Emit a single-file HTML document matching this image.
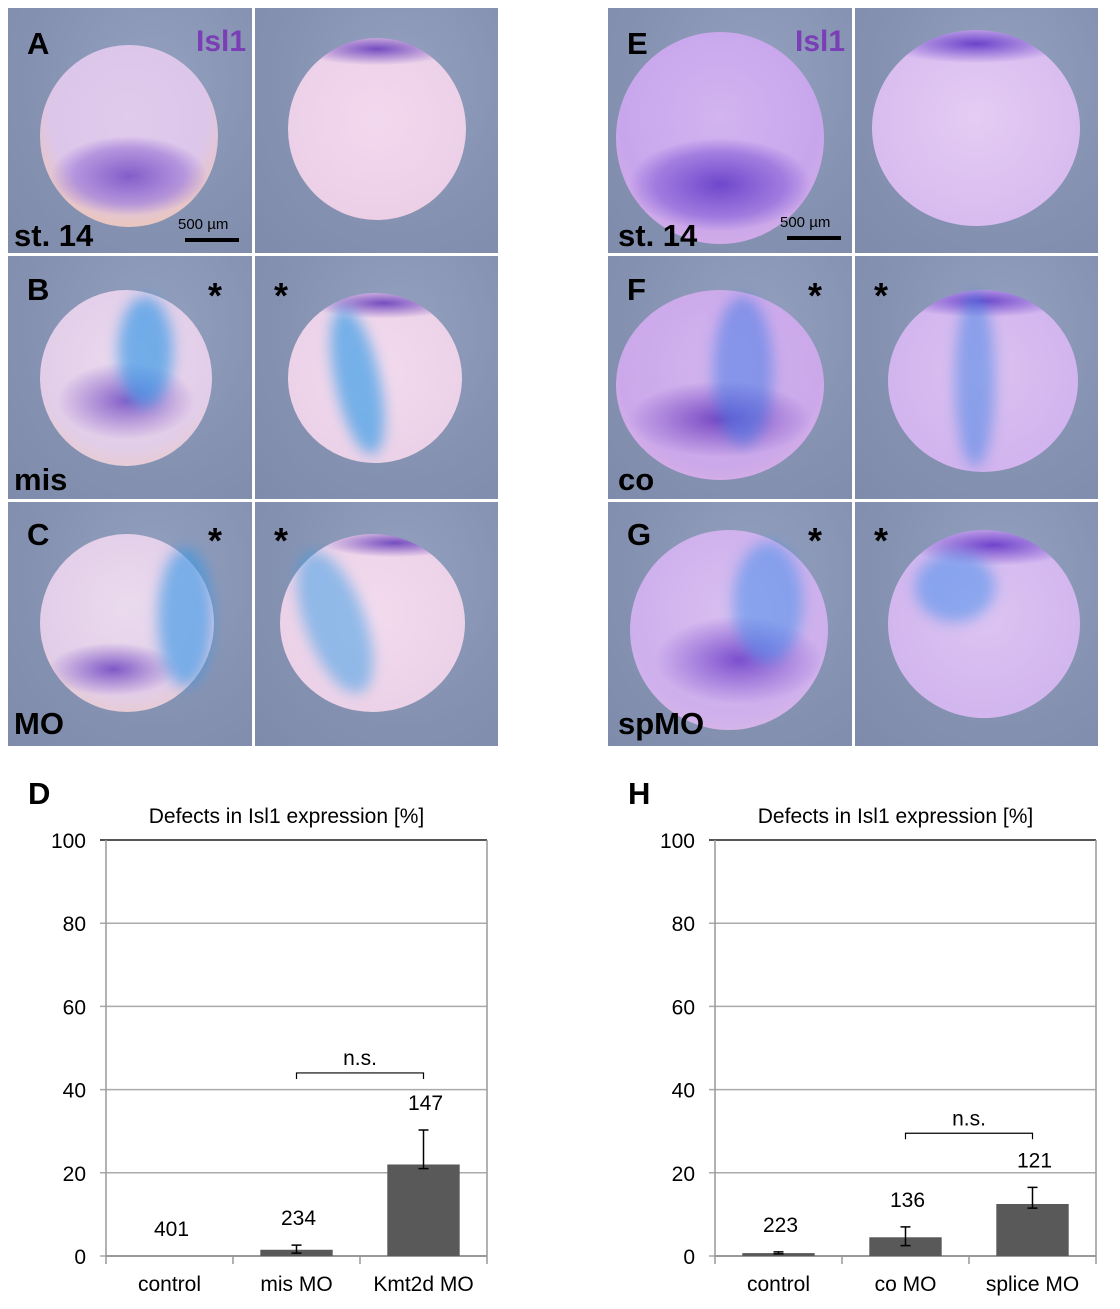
<!DOCTYPE html>
<html><head><meta charset="utf-8">
<style>
body{margin:0;background:#fff;width:1120px;height:1309px;position:relative;overflow:hidden;font-family:"Liberation Sans",sans-serif;}
.p{position:absolute;background:radial-gradient(ellipse at 60% 30%,#94a0bf 0,#8591b1 60%,#7f8bab 100%);overflow:hidden;}
.e{position:absolute;border-radius:50%;}
.s{position:absolute;border-radius:50%;filter:blur(7px);}
.lbl{position:absolute;font-weight:bold;font-size:31px;color:#000;line-height:1;}
.ast{position:absolute;font-weight:bold;font-size:36px;line-height:1;}
.isl{position:absolute;font-weight:bold;font-size:30px;color:#7a3eb5;line-height:1;}
.sb{position:absolute;font-size:15px;line-height:1;}
.bar{position:absolute;height:4px;background:#000;}
</style></head><body>

<!-- LEFT GROUP -->
<div class="p" style="left:8px;top:8px;width:244px;height:245px">
 <div class="e" style="left:32px;top:37px;width:178px;height:182px;background:radial-gradient(ellipse 44% 22% at 50% 72%,rgba(115,75,195,.85),rgba(140,100,210,.5) 70%,transparent),radial-gradient(circle at 50% 40%,#e0cbec 0,#dcc6ea 55%,#efc6b0 85%,#e8b888 100%)"></div>
</div>
<div class="p" style="left:255px;top:8px;width:243px;height:245px">
 <div class="e" style="left:33px;top:30px;width:178px;height:182px;background:radial-gradient(ellipse 44% 9% at 50% 6%,rgba(110,70,190,.95),transparent),radial-gradient(circle at 50% 45%,#f3d8ee 0,#ecd0e8 70%,#ecc8c8 100%)"></div>
</div>
<div class="p" style="left:8px;top:256px;width:244px;height:243px">
 <div class="e" style="left:32px;top:34px;width:172px;height:176px;background:radial-gradient(ellipse 40% 22% at 50% 63%,rgba(115,75,195,.85),transparent),radial-gradient(circle at 50% 40%,#ebd9ee 0,#e2cde8 65%,#eecbb4 100%)"></div>
 <div class="s" style="left:110px;top:40px;width:55px;height:110px;background:rgba(50,150,230,.65)"></div>
</div>
<div class="p" style="left:255px;top:256px;width:243px;height:243px">
 <div class="e" style="left:33px;top:37px;width:174px;height:170px;background:radial-gradient(ellipse 44% 9% at 55% 6%,rgba(110,70,190,.95),transparent),radial-gradient(circle at 50% 45%,#f3dbee 0,#ecd2e8 70%,#eccaca 100%)"></div>
 <div class="s" style="left:80px;top:50px;width:45px;height:150px;background:rgba(50,155,230,.65);transform:rotate(-12deg)"></div>
</div>
<div class="p" style="left:8px;top:502px;width:244px;height:244px">
 <div class="e" style="left:32px;top:32px;width:174px;height:178px;background:radial-gradient(ellipse 37% 15% at 42% 76%,rgba(115,75,195,.9),transparent),radial-gradient(circle at 50% 40%,#ebdbee 0,#e2cde8 65%,#eecbb4 100%)"></div>
 <div class="s" style="left:150px;top:45px;width:55px;height:140px;background:rgba(50,150,230,.6)"></div>
</div>
<div class="p" style="left:255px;top:502px;width:243px;height:244px">
 <div class="e" style="left:25px;top:32px;width:185px;height:178px;background:radial-gradient(ellipse 40% 8% at 62% 5%,rgba(110,70,190,.95),transparent),radial-gradient(circle at 50% 45%,#f3dbee 0,#ecd2e8 70%,#eccaca 100%)"></div>
 <div class="s" style="left:50px;top:45px;width:60px;height:150px;background:rgba(50,155,230,.5);transform:rotate(-20deg)"></div>
</div>

<!-- RIGHT GROUP -->
<div class="p" style="left:608px;top:8px;width:244px;height:245px">
 <div class="e" style="left:8px;top:24px;width:208px;height:212px;background:radial-gradient(ellipse 44% 22% at 50% 72%,rgba(100,60,200,.9),rgba(120,80,210,.5) 70%,transparent),radial-gradient(circle at 50% 40%,#d2b4f0 0,#c8a6ec 60%,#dcb0e4 100%)"></div>
</div>
<div class="p" style="left:855px;top:8px;width:243px;height:245px">
 <div class="e" style="left:17px;top:22px;width:208px;height:196px;background:radial-gradient(ellipse 44% 10% at 50% 7%,rgba(100,60,200,.95),transparent),radial-gradient(circle at 50% 45%,#e4ccf2 0,#d8bcf0 70%,#dcb4e6 100%)"></div>
</div>
<div class="p" style="left:608px;top:256px;width:244px;height:243px">
 <div class="e" style="left:8px;top:34px;width:208px;height:190px;background:radial-gradient(ellipse 44% 20% at 50% 68%,rgba(110,60,190,.9),transparent),radial-gradient(circle at 50% 40%,#d2b4ee 0,#cba8ea 65%,#e8b8e0 100%)"></div>
 <div class="s" style="left:105px;top:40px;width:60px;height:150px;background:rgba(60,120,230,.5)"></div>
</div>
<div class="p" style="left:855px;top:256px;width:243px;height:243px">
 <div class="e" style="left:33px;top:34px;width:190px;height:182px;background:radial-gradient(ellipse 44% 9% at 50% 6%,rgba(100,60,200,.9),transparent),radial-gradient(circle at 50% 45%,#dcc2f0 0,#d2b4ee 70%,#e0b8e4 100%)"></div>
 <div class="s" style="left:100px;top:36px;width:40px;height:175px;background:rgba(60,130,230,.5)"></div>
</div>
<div class="p" style="left:608px;top:502px;width:244px;height:244px">
 <div class="e" style="left:22px;top:28px;width:198px;height:200px;background:radial-gradient(ellipse 42% 22% at 55% 65%,rgba(110,60,200,.85),transparent),radial-gradient(circle at 50% 40%,#d8bef0 0,#cdafec 65%,#e6bde6 100%)"></div>
 <div class="s" style="left:125px;top:40px;width:70px;height:120px;background:rgba(60,140,235,.5)"></div>
</div>
<div class="p" style="left:855px;top:502px;width:243px;height:244px">
 <div class="e" style="left:33px;top:28px;width:192px;height:188px;background:radial-gradient(ellipse 44% 11% at 55% 8%,rgba(100,55,200,.9),transparent),radial-gradient(circle at 50% 45%,#dcc4f2 0,#d2b6ee 70%,#e4bce6 100%)"></div>
 <div class="s" style="left:60px;top:50px;width:80px;height:70px;background:rgba(60,140,235,.5)"></div>
</div>

<!-- Labels left -->
<div class="lbl" style="left:27px;top:28px">A</div>
<div class="isl" style="left:196px;top:27px">Isl1</div>
<div class="lbl" style="left:14px;top:220px">st. 14</div>
<div class="sb" style="left:178px;top:217px">500 µm</div>
<div class="bar" style="left:185px;top:238px;width:54px"></div>
<div class="lbl" style="left:27px;top:274px">B</div>
<div class="ast" style="left:208px;top:278px">*</div>
<div class="ast" style="left:274px;top:278px">*</div>
<div class="lbl" style="left:14px;top:464px">mis</div>
<div class="lbl" style="left:27px;top:519px">C</div>
<div class="ast" style="left:208px;top:523px">*</div>
<div class="ast" style="left:274px;top:523px">*</div>
<div class="lbl" style="left:14px;top:708px">MO</div>

<!-- Labels right -->
<div class="lbl" style="left:627px;top:28px">E</div>
<div class="isl" style="left:795px;top:27px">Isl1</div>
<div class="lbl" style="left:618px;top:220px">st. 14</div>
<div class="sb" style="left:780px;top:215px">500 µm</div>
<div class="bar" style="left:787px;top:236px;width:54px"></div>
<div class="lbl" style="left:627px;top:274px">F</div>
<div class="ast" style="left:808px;top:278px">*</div>
<div class="ast" style="left:874px;top:278px">*</div>
<div class="lbl" style="left:618px;top:464px">co</div>
<div class="lbl" style="left:627px;top:519px">G</div>
<div class="ast" style="left:808px;top:523px">*</div>
<div class="ast" style="left:874px;top:523px">*</div>
<div class="lbl" style="left:618px;top:708px">spMO</div>

<div class="lbl" style="left:28px;top:778px">D</div>
<div class="lbl" style="left:628px;top:778px">H</div>

<svg id="chart" width="1120" height="1309" style="position:absolute;left:0;top:0"></svg>

<script>
const ticks=[0,20,40,60,80,100];
const catsD=["control","mis MO","Kmt2d MO"];
const valsD=[0,1.5,22];
const errHiD=[0,2.6,30.3];
const errLoD=[0,0.7,21];
const nD=["401","234","147"];
const catsH=["control","co MO","splice MO"];
const valsH=[0.7,4.5,12.5];
const errHiH=[1,7,16.5];
const errLoH=[0.5,2.5,11.5];
const nH=["223","136","121"];
const sigD=[1,2,44];
const sigH=[1,2,29.5];

const svg=document.getElementById('chart');
const NS='http://www.w3.org/2000/svg';
function mk(tag,attrs){const e=document.createElementNS(NS,tag);for(const k in attrs)e.setAttribute(k,attrs[k]);svg.appendChild(e);return e;}
function txt(x,y,s,anchor){const t=mk('text',{x:x,y:y,'font-size':21,'font-family':'Liberation Sans, sans-serif','text-anchor':anchor||'middle',fill:'#000'});t.textContent=s;return t;}

function chart(x0,x1,cats,vals,hi,lo,ns,sig,prefix){
  const yTop=840,yBot=1256;
  const ys=v=>yBot-(v/100)*(yBot-yTop);
  const cw=(x1-x0)/cats.length;
  const xc=i=>x0+cw*(i+0.5);
  const title=txt((x0+x1)/2-10,823,'Defects in Isl1 expression [%]');
  
  
  ticks.forEach(t=>{
    const y=ys(t);
    const g=mk('line',{x1:x0-6,x2:x1,y1:y,y2:y,stroke:t===100?'#555':'#aaa','stroke-width':t===100?2:1.5});
    
    
    const l=txt(x0-20,y+8,String(t),'end');
    
    
  });
  const ax=mk('line',{x1:x0,x2:x0,y1:yTop,y2:yBot+8,stroke:'#999','stroke-width':1.5});
  
  
  const ax2=mk('line',{x1:x1,x2:x1,y1:yTop,y2:yBot+8,stroke:'#999','stroke-width':1.5});
  
  
  const xa=mk('line',{x1:x0,x2:x1,y1:yBot,y2:yBot,stroke:'#999','stroke-width':2});
  
  
  for(let i=1;i<cats.length;i++){
    const tk=mk('line',{x1:x0+cw*i,x2:x0+cw*i,y1:yBot,y2:yBot+8,stroke:'#999','stroke-width':1.5});
    
    
  }
  const bw=cw*0.57;
  cats.forEach((c,i)=>{
    const b=mk('rect',{x:xc(i)-bw/2,y:ys(vals[i]),width:bw,height:yBot-ys(vals[i]),fill:'#595959'});
    
    
    if(hi[i]>0){
      const e=mk('path',{d:`M${xc(i)},${ys(hi[i])}V${ys(lo[i])}M${xc(i)-5},${ys(hi[i])}H${xc(i)+5}M${xc(i)-5},${ys(lo[i])}H${xc(i)+5}`,stroke:'#000','stroke-width':1.5,fill:'none'});
      
      
    }
    const top=Math.max(vals[i],hi[i]);
    const n=txt(xc(i)+2,ys(top)-20,ns[i]);
    
    
    const cl=txt(xc(i),1291,c);
    
    
  });
  const ya=ys(sig[2]);
  const br=mk('path',{d:`M${xc(sig[0])},${ya+6}V${ya}H${xc(sig[1])}V${ya+6}`,stroke:'#000','stroke-width':1.2,fill:'none'});
  
  
  const ns_=txt((xc(sig[0])+xc(sig[1]))/2,ya-8,'n.s.');
  
  
}
chart(106,487,catsD,valsD,errHiD,errLoD,nD,sigD,'d');
chart(715,1096,catsH,valsH,errHiH,errLoH,nH,sigH,'h');
</script>
</body></html>
